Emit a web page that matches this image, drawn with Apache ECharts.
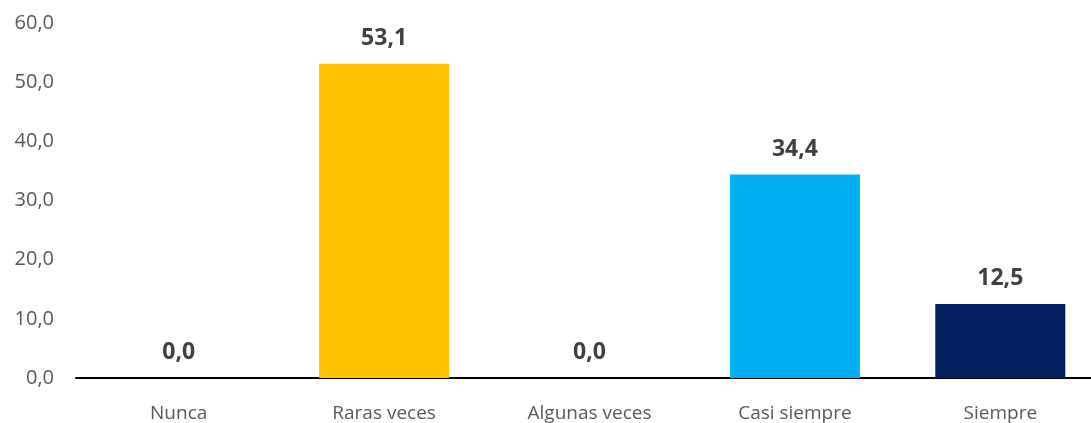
<!DOCTYPE html>
<html>
<head>
<meta charset="utf-8">
<script src="https://cdn.jsdelivr.net/npm/echarts@6/dist/echarts.min.js"></script>
<style>
  html, body { margin: 0; padding: 0; background: #fff; overflow: hidden; width: 1091px; height: 423px; }
  /* el grafico original queda recortado por la derecha */
  #chart { width: 1103px; height: 423px; }
</style>
</head>
<body>
<div id="chart"></div>
<script>
// categorias y valores (%)
const categorias = ['Nunca', 'Raras veces', 'Algunas veces', 'Casi siempre', 'Siempre'];
const valores = [0, 53.1, 0, 34.4, 12.5];
const colores = ['#FFC000', '#FFC000', '#00B0F0', '#00B0F0', '#002060'];
const yMin = 0, yMax = 60, yPaso = 10;

const coma = v => Number(v).toFixed(1).replace('.', ',');

const chart = echarts.init(document.getElementById('chart'));

const option = {
    animation: false,
    grid: { left: 76, top: 23, right: 0, bottom: 43.5, containLabel: false },
    xAxis: {
        type: 'category',
        data: categorias,
        axisLine: { lineStyle: { color: '#000', width: 2 } },
        axisTick: { show: false },
        axisLabel: {
            color: '#595959',
            fontFamily: 'Open Sans',
            fontSize: 19,
            margin: 26
        }
    },
    yAxis: {
        type: 'value',
        min: yMin,
        max: yMax,
        interval: yPaso,
        splitLine: { show: false },
        axisLine: { show: false },
        axisTick: { show: false },
        axisLabel: {
            color: '#595959',
            fontFamily: 'Open Sans',
            fontSize: 20,
            margin: 22,
            formatter: v => coma(v)
        }
    },
    series: [
        {
            type: 'bar',
            barWidth: 130,
            data: valores.map((v, i) => ({ value: v, itemStyle: { color: colores[i] } })),
            label: {
                show: true,
                position: 'top',
                distance: 14,
                color: '#404040',
                fontFamily: 'Open Sans',
                fontWeight: 'bold',
                fontSize: 23,
                formatter: p => coma(p.value)
            }
        }
    ]
};

chart.setOption(option);
</script>
</body>
</html>
